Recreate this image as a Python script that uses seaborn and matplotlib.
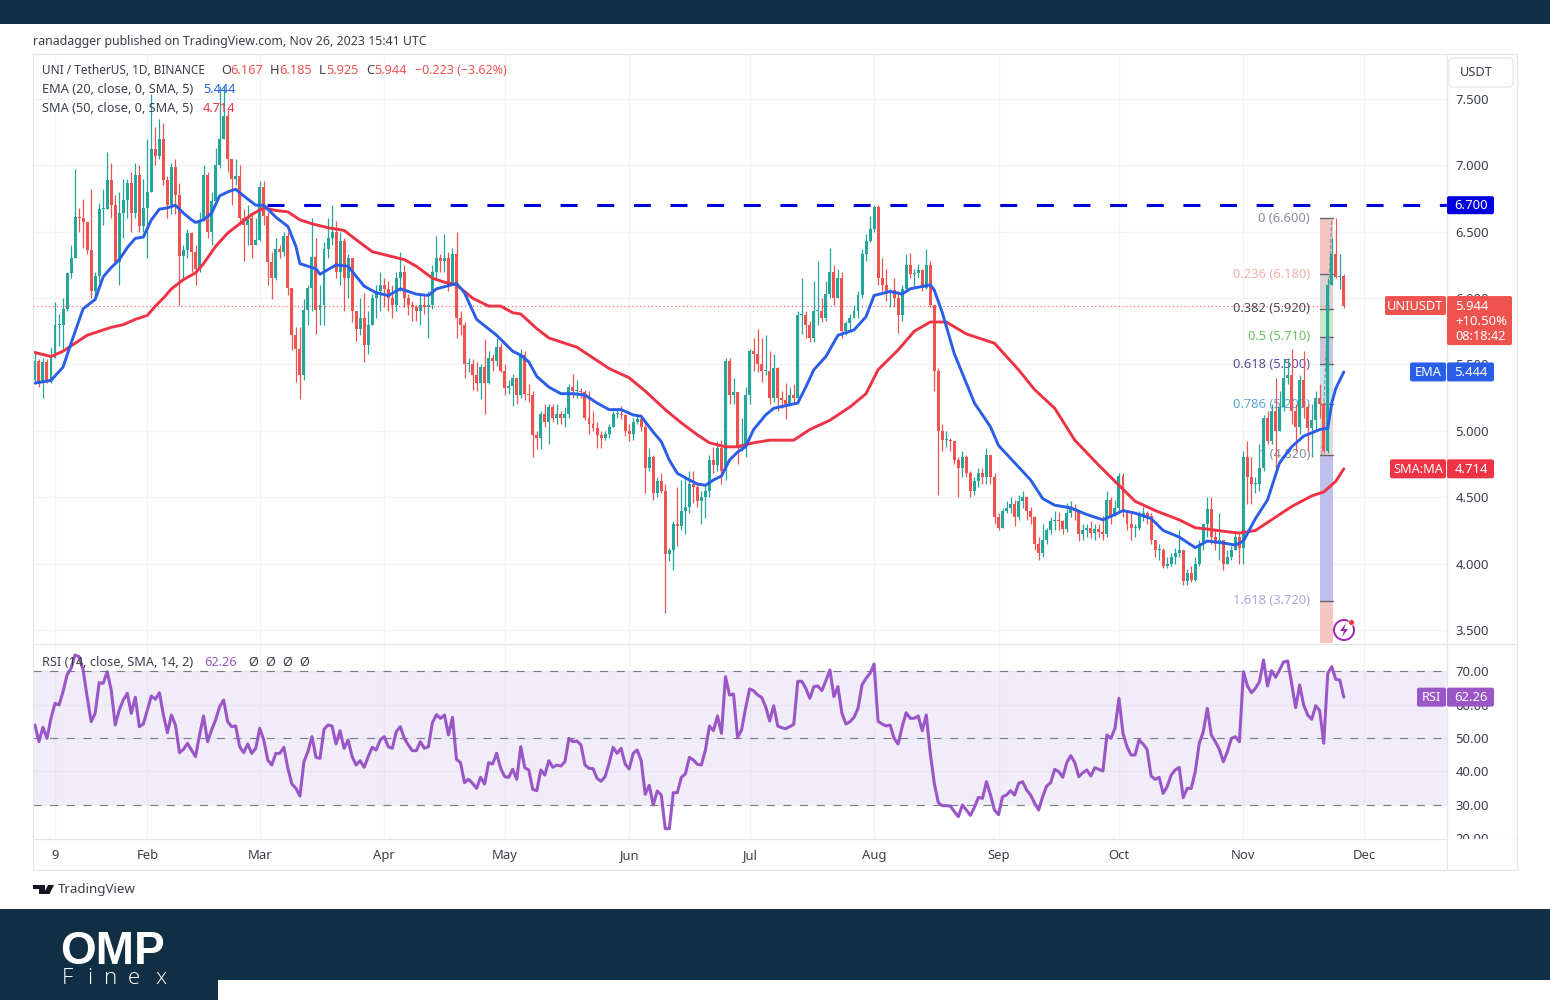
import numpy as np
import pandas as pd
import seaborn as sns
import matplotlib
matplotlib.use('Agg')
import matplotlib.pyplot as plt
from matplotlib.patches import Rectangle, FancyBboxPatch, Polygon, Circle

sns.set_theme(style='white')
plt.rcParams['font.family'] = ['Noto Sans', 'DejaVu Sans']

# daily candles, Jan 4 to Nov 26 2023, one row per month
closes = [
    5.53,5.37,5.52,5.38,5.55,5.80,5.80,5.92,6.19,6.30,6.61,6.60,6.57,6.36,6.05,6.17,6.67,6.67,6.89,6.70,6.27,6.64,6.74,6.87,6.64,6.93,6.54,6.68,
    6.80,7.12,7.07,7.20,6.89,6.70,6.99,6.78,6.32,6.36,6.49,6.35,6.22,6.58,6.93,6.50,6.73,7.00,7.20,7.37,7.05,6.90,6.92,6.60,6.55,6.60,6.40,6.44,
    6.84,6.62,6.27,6.15,6.37,6.35,6.47,6.08,5.72,5.62,5.42,5.91,6.08,6.31,5.91,5.95,6.37,6.45,6.50,6.20,6.43,6.15,6.30,5.90,5.77,5.85,5.65,5.80,6.00,6.05,6.10,
    6.07,6.00,5.95,6.15,6.20,6.00,5.95,5.93,5.90,5.95,5.93,5.95,6.20,6.30,6.28,6.30,6.10,6.33,5.85,5.80,5.50,5.50,5.42,5.36,5.48,5.36,5.55,5.53,5.63,5.45,
    5.32,5.34,5.40,5.27,5.57,5.28,5.27,4.97,4.95,5.13,5.07,5.18,5.10,5.13,5.10,5.13,5.33,5.30,5.30,5.29,5.10,5.05,5.02,4.97,4.95,4.98,5.03,5.13,5.13,5.12,5.00,
    4.98,5.07,5.09,5.03,4.72,4.80,4.53,4.62,4.55,4.07,4.10,4.30,4.28,4.40,4.43,4.60,4.58,4.47,4.50,4.55,4.78,4.74,4.87,4.70,5.53,5.27,5.29,4.87,4.90,5.27,
    5.60,5.58,5.50,5.45,5.45,5.25,5.47,5.25,5.23,5.20,5.27,5.25,5.87,5.87,5.80,5.70,5.90,5.90,5.85,6.03,6.20,6.00,6.15,5.75,5.81,5.85,5.90,6.02,6.33,6.43,6.52,
    6.69,6.15,6.10,6.05,6.06,6.00,5.87,6.07,6.25,6.18,6.19,6.21,6.08,6.25,5.95,5.45,5.00,4.93,4.93,4.92,4.78,4.72,4.80,4.68,4.55,4.62,4.68,4.65,4.82,4.65,4.35,
    4.27,4.40,4.42,4.45,4.35,4.47,4.50,4.40,4.35,4.15,4.08,4.18,4.25,4.32,4.33,4.32,4.26,4.38,4.42,4.40,4.22,4.25,4.27,4.23,4.26,4.24,4.22,4.48,4.36,4.42,
    4.66,4.40,4.30,4.27,4.27,4.37,4.38,4.36,4.18,4.10,4.10,3.98,4.00,4.05,4.08,4.10,3.87,3.93,3.88,4.00,4.15,4.30,4.41,4.20,4.15,4.18,4.00,4.05,4.10,4.20,4.12,
    4.80,4.65,4.60,4.60,4.72,5.10,4.92,5.15,5.00,5.18,5.40,5.42,5.15,5.03,5.38,5.18,5.02,5.08,5.25,5.20,4.85,6.10,6.33,6.16,6.167,5.944,
]
highs = [
    5.60,5.54,5.55,5.54,5.63,5.97,5.88,6.00,6.20,6.40,6.97,6.68,6.75,6.55,6.82,6.20,6.72,6.82,7.10,7.02,6.78,6.80,6.90,6.90,6.95,7.02,7.00,6.90,
    7.20,7.54,7.29,7.35,7.32,6.92,7.02,7.05,6.87,6.40,6.52,6.50,6.40,6.65,7.00,6.95,6.80,7.13,7.60,7.60,7.42,7.05,7.05,7.00,6.67,6.70,6.65,6.60,
    6.88,6.88,6.65,6.35,6.45,6.40,6.50,6.50,6.08,5.78,5.78,5.99,6.10,6.60,6.45,6.10,6.42,6.60,6.70,6.58,6.50,6.45,6.33,6.30,5.90,6.00,6.04,5.90,6.03,6.10,6.20,
    6.15,6.13,6.10,6.20,6.35,6.25,6.03,5.98,5.95,6.02,6.02,6.05,6.25,6.47,6.33,6.48,6.35,6.38,6.50,5.90,5.82,5.55,5.54,5.52,5.50,5.69,5.60,5.58,5.70,5.66,
    5.50,5.38,5.43,5.40,5.62,5.60,5.35,5.30,5.00,5.15,5.20,5.20,5.20,5.20,5.15,5.18,5.35,5.43,5.38,5.32,5.31,5.30,5.15,5.07,5.00,5.00,5.05,5.15,5.17,5.19,5.13,
    5.05,5.10,5.12,5.13,5.05,4.87,4.82,4.65,4.68,4.60,4.12,4.32,4.58,4.63,4.65,4.70,4.70,4.60,4.55,4.60,4.82,4.88,4.92,4.93,5.55,5.55,5.40,5.29,5.10,5.33,
    5.62,5.70,5.77,5.70,5.72,5.60,5.58,5.48,5.30,5.36,5.33,5.35,5.90,6.15,5.90,5.83,6.13,6.28,6.00,6.13,6.38,6.25,6.22,6.20,5.83,5.88,5.95,6.05,6.37,6.48,6.62,
    6.70,6.70,6.30,6.22,6.07,6.15,6.05,6.10,6.33,6.34,6.22,6.26,6.22,6.37,6.28,5.95,5.47,5.05,5.00,4.95,4.92,4.80,4.85,4.82,4.70,4.65,4.72,4.72,4.87,4.82,4.68,
    4.38,4.42,4.47,4.50,4.48,4.52,4.55,4.49,4.43,4.36,4.20,4.30,4.27,4.35,4.40,4.39,4.33,4.46,4.47,4.45,4.40,4.30,4.30,4.32,4.30,4.30,4.36,4.55,4.50,4.48,
    4.68,4.68,4.40,4.40,4.30,4.40,4.43,4.40,4.38,4.18,4.15,4.12,4.05,4.08,4.12,4.25,4.10,3.96,3.98,4.05,4.18,4.30,4.50,4.50,4.25,4.38,4.18,4.10,4.13,4.23,4.22,
    4.85,4.92,4.80,4.65,4.90,5.12,5.15,5.20,5.40,5.30,5.55,5.55,5.62,5.20,5.42,5.60,5.20,5.20,5.30,5.35,5.22,6.15,6.45,6.60,6.33,6.185,
]
lows = [
    5.35,5.33,5.25,5.36,5.36,5.55,5.64,5.62,5.90,6.15,6.30,6.50,6.38,6.33,6.00,6.00,6.12,6.55,6.68,6.60,6.25,6.10,6.45,6.60,6.50,6.60,6.50,6.50,
    6.30,6.80,7.00,7.05,6.85,6.60,6.63,6.63,5.95,6.15,6.30,6.20,6.10,6.20,6.58,6.45,6.40,6.73,6.98,7.20,6.95,6.70,6.85,6.55,6.28,6.40,6.30,6.40,
    6.43,6.55,6.10,5.99,6.14,6.30,6.32,6.02,5.61,5.37,5.24,5.38,5.80,5.90,5.73,5.80,5.80,6.30,6.40,6.15,6.10,5.90,6.00,5.82,5.68,5.72,5.52,5.58,5.80,5.85,5.90,
    5.93,5.90,5.85,5.90,6.05,5.93,5.87,5.83,5.83,5.80,5.88,5.70,5.92,6.15,6.20,6.20,6.05,6.10,5.70,5.72,5.40,5.44,5.31,5.30,5.24,5.13,5.35,5.45,5.49,5.44,
    5.27,5.28,5.19,5.20,5.25,5.23,5.22,4.80,4.86,4.86,5.03,4.90,5.07,5.05,5.05,5.03,5.10,5.25,5.25,5.25,5.08,4.98,5.00,4.87,4.87,4.93,4.95,5.03,5.10,5.09,4.96,
    4.92,4.93,5.05,5.00,4.53,4.70,4.48,4.50,4.53,3.63,4.02,3.95,4.13,4.25,4.22,4.38,4.46,4.43,4.30,4.34,4.50,4.68,4.70,4.60,4.63,5.20,5.20,4.75,4.85,4.80,
    5.20,5.45,5.44,5.37,5.42,5.20,5.22,5.15,5.17,5.09,5.20,5.20,5.20,5.73,5.70,5.67,5.67,5.80,5.82,5.83,6.00,5.95,6.00,5.70,5.72,5.75,5.85,5.85,6.00,6.28,6.42,
    6.50,6.10,6.05,5.98,5.93,5.93,5.74,5.83,6.07,6.15,6.08,6.15,6.05,6.07,5.93,5.30,4.52,4.85,4.88,4.85,4.75,4.50,4.65,4.65,4.50,4.52,4.58,4.60,4.60,4.60,4.30,
    4.25,4.27,4.38,4.38,4.28,4.33,4.42,4.33,4.30,4.10,4.03,4.05,4.15,4.22,4.25,4.25,4.22,4.24,4.35,4.33,4.17,4.18,4.20,4.19,4.18,4.20,4.18,4.20,4.30,4.36,
    4.40,4.35,4.25,4.18,4.20,4.25,4.32,4.30,4.15,4.05,4.03,3.97,3.97,3.98,4.00,4.05,3.84,3.84,3.86,3.87,3.98,4.10,4.20,4.15,4.10,4.03,3.95,4.00,4.03,4.10,4.00,
    4.00,4.45,4.45,4.53,4.55,4.70,4.90,4.90,4.72,5.05,5.15,5.35,5.05,4.85,4.98,5.10,4.85,4.80,5.00,5.10,4.83,4.83,6.10,6.15,6.07,5.925,
]
first_open = 5.38

rsi = [
    53.9,48.9,53.2,49.9,55.9,60.4,59.9,63.9,68.9,70.9,74.9,74.4,70.4,62.4,54.9,57.4,66.6,66.4,69.9,64.4,53.9,58.4,61.4,63.4,57.4,62.2,53.4,54.2,
    58.4,62.6,61.6,63.6,56.9,51.6,56.9,53.9,45.6,46.6,48.4,46.4,44.4,50.9,56.6,48.9,52.4,55.4,59.4,61.4,54.9,53.4,53.6,47.4,45.6,48.2,45.4,46.9,
    52.9,49.4,43.4,41.9,45.4,45.4,47.2,40.9,36.2,34.9,32.6,42.9,45.9,50.4,44.2,43.9,52.6,53.9,53.6,48.2,52.2,46.9,49.4,44.4,41.9,43.2,41.2,44.4,47.2,46.4,49.4,
    50.4,47.4,46.9,51.9,53.4,49.9,47.9,46.2,46.2,48.9,46.9,47.4,54.6,57.0,55.9,56.9,50.9,56.2,43.6,42.6,36.6,37.6,36.4,34.9,38.2,36.2,42.6,42.2,45.4,40.9,
    38.4,38.2,40.6,37.6,47.4,41.1,40.4,34.6,34.2,40.4,38.9,43.2,41.2,41.9,41.6,42.9,49.9,48.9,49.1,47.9,41.9,40.9,40.8,37.9,37.0,38.4,42.4,47.2,45.4,46.9,42.2,
    40.7,45.4,46.4,43.2,33.1,35.8,29.9,34.1,32.9,22.8,22.8,33.6,33.6,38.2,39.2,44.2,43.4,42.1,41.9,46.4,53.6,52.2,56.6,51.4,68.4,62.9,63.2,50.2,52.4,58.9,
    64.7,64.2,62.9,62.2,59.4,55.1,59.7,53.6,53.1,52.8,53.4,54.1,67.0,67.0,64.9,61.9,65.4,65.6,64.2,67.2,70.4,62.4,65.4,57.4,54.2,54.9,56.2,58.9,65.9,67.9,69.4,
    72.2,55.0,54.2,53.6,53.9,49.9,48.2,53.4,57.6,55.9,55.9,56.6,52.2,56.9,45.4,36.4,30.6,29.7,29.7,29.6,27.9,26.4,29.9,28.4,26.8,29.2,32.2,31.9,36.9,32.9,28.4,
    27.0,32.4,32.9,34.2,32.9,36.4,36.9,34.4,32.9,30.4,28.4,32.4,35.6,36.6,40.6,39.9,38.2,42.6,44.7,42.6,38.4,39.6,40.4,38.6,41.1,40.6,40.1,50.9,49.9,52.9,
    61.9,51.4,47.4,44.9,44.9,49.4,48.2,46.6,38.6,37.6,38.2,33.4,35.4,38.9,40.4,41.2,32.1,34.9,34.9,39.9,48.4,51.9,58.9,50.9,48.9,46.6,42.9,45.9,49.9,50.4,48.9,
    69.9,65.6,63.6,64.9,66.9,73.4,65.6,70.2,68.2,70.4,72.8,73.1,66.4,59.1,65.9,59.9,56.9,55.6,59.7,58.2,48.4,69.4,71.4,67.6,67.4,62.26,
]

# moving averages, day of year / price
ema_days = [4,8,11,13,16,19,21,23,25,27,29,31,33,35,37,39,41,43,44,46,48,50,52,54,56,59,61,64,67,69,70,74,75,79,82,86,89,92,95,99,102,104,109,111,114,119,123,125,
            127,129,132,135,138,141,144,147,150,153,155,158,160,162,164,167,169,171,173,175,177,179,181,183,186,188,191,194,196,198,201,204,208,211,213,217,220,222,227,228,230,233,238,242,
            244,248,252,255,258,262,266,270,273,275,278,282,285,289,293,296,299,303,305,308,311,314,317,320,324,326,327,328,330]
ema_vals = [5.36,5.38,5.48,5.66,5.92,5.99,6.16,6.23,6.29,6.38,6.45,6.46,6.59,6.67,6.68,6.70,6.64,6.59,6.57,6.59,6.64,6.77,6.80,6.82,6.77,6.70,6.70,6.61,6.54,6.39,6.26,6.22,6.18,6.25,6.24,6.09,6.04,6.02,6.07,6.03,6.02,6.07,6.11,6.04,5.84,5.72,5.60,5.57,
            5.52,5.41,5.33,5.28,5.28,5.27,5.21,5.16,5.16,5.12,5.11,4.99,4.92,4.78,4.68,4.63,4.60,4.59,4.63,4.66,4.78,4.84,4.88,5.01,5.12,5.17,5.19,5.21,5.33,5.46,5.56,5.72,5.76,5.86,6.02,6.05,6.03,6.07,6.10,6.06,5.89,5.58,5.21,5.03,
            4.89,4.76,4.63,4.49,4.44,4.42,4.37,4.33,4.37,4.40,4.38,4.34,4.25,4.20,4.12,4.17,4.16,4.14,4.17,4.34,4.48,4.76,4.88,4.96,5.01,5.02,5.21,5.32,5.444]
sma_days = [4,8,11,14,17,20,23,26,29,32,34,36,38,41,44,46,49,52,55,58,61,64,67,70,73,77,81,84,88,92,96,99,103,106,109,113,117,120,123,125,
            129,132,136,139,142,147,152,156,161,165,169,172,176,179,183,187,193,197,202,207,211,214,219,223,227,231,236,243,
            249,253,258,263,269,274,278,283,289,293,296,301,304,308,312,317,322,325,328,330]
sma_vals = [5.59,5.56,5.60,5.66,5.72,5.75,5.78,5.80,5.84,5.87,5.94,6.00,6.07,6.14,6.19,6.26,6.39,6.49,6.56,6.63,6.68,6.66,6.65,6.59,6.56,6.53,6.51,6.44,6.35,6.32,6.29,6.24,6.15,6.12,6.10,6.00,5.94,5.94,5.89,5.88,
            5.77,5.70,5.66,5.63,5.57,5.47,5.40,5.30,5.16,5.06,4.97,4.91,4.88,4.88,4.91,4.93,4.93,5.01,5.08,5.18,5.28,5.46,5.61,5.75,5.82,5.82,5.73,5.66,
            5.46,5.31,5.17,4.93,4.74,4.59,4.47,4.40,4.33,4.27,4.26,4.24,4.23,4.25,4.33,4.43,4.51,4.54,4.62,4.714]

tick_days = [9, 32, 60, 91, 121, 152, 182, 213, 244, 274, 305, 335]
tick_labels = ['9', 'Feb', 'Mar', 'Apr', 'May', 'Jun', 'Jul', 'Aug', 'Sep', 'Oct', 'Nov', 'Dec']
price_ticks = [3.5, 4.0, 4.5, 5.0, 5.5, 6.0, 6.5, 7.0, 7.5]
rsi_ticks = [20, 30, 40, 50, 60, 70]

fib_levels = [6.6, 6.18, 5.92, 5.71, 5.5, 5.2, 4.82, 3.72]
fib_names = ['0', '0.236', '0.382', '0.5', '0.618', '0.786', '1', '1.618']
fib_text = ['#8a8d96', '#f0b0ac', '#4a4a4a', '#66c266', '#5e4b9e', '#5da6d8', '#8a8d96', '#a9a9dd']
fib_fill = ['#f3c5c3', '#dcd4d4', '#c8e9c4', '#cfc4de', '#c8e5ec', '#dcdcdc', '#bfc0ec', '#f3c5c3']

resistance = 6.7
last_price = 5.944
last_ema = 5.444
last_sma = 4.714
last_rsi = 62.26

UP = '#26a69a'
DOWN = '#ef5350'
GRID = '#f3f4f6'
BORDER = '#e4e6ea'
NAVY = '#102e44'
TXT = '#3a3e48'
BLUE = '#2b5ee8'
RED = '#ee3344'
PURPLE = '#9a56c6'

days = np.arange(4, 4 + len(closes))
df = pd.DataFrame({'day': days, 'close': closes, 'high': highs, 'low': lows, 'rsi': rsi})
df['open'] = df['close'].shift(1).fillna(first_open)
df['up'] = df['close'] >= df['open']
df['color'] = np.where(df['up'], UP, DOWN)

fig = plt.figure(figsize=(15.5, 10), dpi=100, facecolor='white')
W, H = 1550.0, 1000.0


def pane(x0, y0, x1, y1):
    return fig.add_axes([x0 / W, 1 - y1 / H, (x1 - x0) / W, (y1 - y0) / H])


ax = pane(33, 54, 1447, 643)
ax2 = pane(33, 644, 1447, 838)

# price pane
ax.set_xlim(3.52, 355.7)
ax.set_ylim(3.402, 7.839)
for d in tick_days:
    ax.axvline(d, color=GRID, lw=1, zorder=0)
    ax2.axvline(d, color=GRID, lw=1, zorder=0)
for p in price_ticks:
    ax.axhline(p, color=GRID, lw=1, zorder=0)

# fib retracement block
fib_x0, fib_x1 = 324.0, 327.2
edges = fib_levels + [ax.get_ylim()[0]]
for i in range(len(fib_levels)):
    ax.fill_betweenx([edges[i + 1], edges[i]], fib_x0, fib_x1, color=fib_fill[i], lw=0, zorder=1)
    ax.plot([fib_x0, fib_x1], [edges[i], edges[i]], color='#666666', lw=1, zorder=1.2)
    ax.text(321.6, fib_levels[i], '%s (%.3f)' % (fib_names[i], fib_levels[i]), color=fib_text[i],
            ha='right', va='center', fontsize=9.3, zorder=1.3)
ax.plot([fib_x0 + 0.5, fib_x1 - 0.2], [fib_levels[6], fib_levels[0]], color='#8a8d96', lw=0.8, ls='--', zorder=1.4)

# candles
ax.vlines(df['day'], df[['low', 'open', 'close']].min(axis=1), df[['high', 'open', 'close']].max(axis=1),
          colors=df['color'], lw=0.9, zorder=2)
ax.bar(df['day'], (df['close'] - df['open']).abs().clip(lower=0.008), bottom=df[['open', 'close']].min(axis=1),
       width=0.74, color=df['color'], lw=0, zorder=2.2)

sns.lineplot(x=sma_days, y=sma_vals, color=RED, linewidth=2.1, ax=ax, zorder=3, estimator=None, sort=False,
             solid_joinstyle='round')
sns.lineplot(x=ema_days, y=ema_vals, color=BLUE, linewidth=2.1, ax=ax, zorder=3.2, estimator=None, sort=False,
             solid_joinstyle='round')

ax.plot([61.7, 355.7], [resistance, resistance], color='#0000dd', lw=2.2, ls=(0, (5.56, 6.43)), zorder=3.4)
ax.plot([3.52, 327], [last_price, last_price], color=DOWN, lw=0.8, ls=(0, (1, 2.5)), zorder=1.1)

ax.set_xlim(3.52, 355.7)
ax.set_ylim(3.402, 7.839)
ax.set_yticks(price_ticks)
ax.set_yticklabels(['%.3f' % p for p in price_ticks])
ax.yaxis.tick_right()
ax.tick_params(axis='y', length=0, pad=6, labelsize=9.4, labelcolor=TXT)
ax.tick_params(axis='x', length=0, labelbottom=False)
ax.set_xlabel('')
ax.set_ylabel('')

# rsi pane
ax2.set_xlim(3.52, 355.7)
ax2.set_ylim(20, 78.2)
for v in rsi_ticks:
    ax2.axhline(v, color=GRID, lw=1, zorder=0)
ax2.axhspan(30, 70, color='#7e57c2', alpha=0.1, lw=0, zorder=0.5)
for v in [30, 50, 70]:
    ax2.axhline(v, color='#787b86', lw=0.8, ls=(0, (7.2, 7.8)), zorder=1)
sns.lineplot(x='day', y='rsi', data=df, color=PURPLE, linewidth=2.2, ax=ax2, zorder=3, estimator=None,
             solid_joinstyle='round')
ax2.set_xlim(3.52, 355.7)
ax2.set_ylim(20, 78.2)
ax2.set_yticks(rsi_ticks)
ax2.set_yticklabels(['%.2f' % v for v in rsi_ticks])
ax2.yaxis.tick_right()
ax2.tick_params(axis='y', length=0, pad=6, labelsize=9.4, labelcolor=TXT)
ax2.set_xticks(tick_days)
ax2.set_xticklabels(tick_labels)
ax2.tick_params(axis='x', length=0, pad=8, labelsize=9.4, labelcolor=TXT)
ax2.set_xlabel('')
ax2.set_ylabel('')

for a in (ax, ax2):
    for s in a.spines.values():
        s.set_visible(False)

# everything outside the panes goes on a pixel overlay
ov = fig.add_axes([0, 0, 1, 1], zorder=10)
ov.set_xlim(0, W)
ov.set_ylim(H, 0)
ov.axis('off')
ov.patch.set_alpha(0)


def box(x0, y0, x1, y1, color, zorder=5):
    ov.add_patch(FancyBboxPatch((x0 + 1, y0 + 1), x1 - x0 - 2, y1 - y0 - 2, boxstyle='round,pad=1,rounding_size=2',
                                fc=color, ec='none', zorder=zorder))


def txt(x, y, s, color=TXT, size=9.2, ha='left', **kw):
    ov.text(x, y + 1.5, s, color=color, fontsize=size, ha=ha, va='center', zorder=7, **kw)


def ypx(a, v):
    return H - a.transData.transform((0, v))[1]


# bands and frame
ov.add_patch(Rectangle((0, 0), W, 24, fc=NAVY, ec='none'))
ov.add_patch(Rectangle((0, 909), W, 91, fc=NAVY, ec='none'))
ov.add_patch(Rectangle((218, 980), W - 218, 20, fc='white', ec='none'))
ov.add_patch(Rectangle((1448, 839), 68, 30, fc='white', ec='none', zorder=4))
ov.add_patch(Rectangle((32.5, 54), 1484.5, 816, fc='none', ec=BORDER, lw=0.9))
ov.plot([1447, 1447], [54, 870], color=BORDER, lw=0.9)
ov.plot([33, 1517], [838.5, 838.5], color=BORDER, lw=0.9)
ov.plot([33, 1517], [643.5, 643.5], color=BORDER, lw=0.9)

txt(33, 40, 'ranadagger published on TradingView.com, Nov 26, 2023 15:41 UTC', size=8.9)

# legend rows
txt(42, 69, 'UNI / TetherUS, 1D, BINANCE', size=8.5)
for lab, x_lab, val, x_val in [('O', 221, '6.167', 230), ('H', 270, '6.185', 279), ('L', 319, '5.925', 326), ('C', 366, '5.944', 374)]:
    txt(x_lab, 69, lab, size=9.2)
    txt(x_val, 69, val, color=DOWN, size=9.2)
txt(415, 69, '\u22120.223 (\u22123.62%)', color=DOWN, size=9.0)
txt(42, 88, 'EMA (20, close, 0, SMA, 5)', size=9.2)
txt(203, 88, '%.3f' % last_ema, color=BLUE, size=9.2)
txt(42, 107, 'SMA (50, close, 0, SMA, 5)', size=9.2)
txt(203, 107, '%.3f' % last_sma, color=RED, size=9.2)
txt(42, 661, 'RSI (14, close, SMA, 14, 2)', size=9.2)
txt(204, 661, '%.2f' % last_rsi, color=PURPLE, size=9.2)
for x_n in [248, 265, 282, 299]:
    txt(x_n, 661, '\u00d8', size=9.2)

# USDT button
ov.add_patch(FancyBboxPatch((1451, 60), 60, 25, boxstyle='round,pad=2,rounding_size=4', fc='white', ec=BORDER, lw=0.9, zorder=5))
txt(1476, 71, 'USDT', ha='center', size=9.2)

# axis tags
y = ypx(ax, resistance)
box(1447, y - 9, 1494, y + 9, '#0000e0')
txt(1471, y - 1, '%.3f' % resistance, color='white', ha='center', size=9.4)

y = ypx(ax, last_price)
box(1385, y - 9.5, 1446, y + 9.5, DOWN)
txt(1415.5, y - 1, 'UNIUSDT', color='white', ha='center', size=9.2)
box(1447, y - 9.5, 1512, y + 39.5, DOWN)
txt(1455, y - 1, '%.3f' % last_price, color='white', size=9.4)
txt(1455, y + 14.5, '+10.50%', color='white', size=9.4)
txt(1455, y + 29.5, '08:18:42', color='white', size=9.2)

y = ypx(ax, last_ema)
box(1410, y - 9.5, 1446, y + 9.5, BLUE)
txt(1428, y - 1, 'EMA', color='white', ha='center', size=9.2)
box(1447, y - 9.5, 1494, y + 9.5, BLUE)
txt(1471, y - 1, '%.3f' % last_ema, color='white', ha='center', size=9.4)

y = ypx(ax, last_sma)
box(1390, y - 9.5, 1446, y + 9.5, RED)
txt(1418, y - 1, 'SMA:MA', color='white', ha='center', size=9.2)
box(1447, y - 9.5, 1494, y + 9.5, RED)
txt(1471, y - 1, '%.3f' % last_sma, color='white', ha='center', size=9.4)

y = ypx(ax2, last_rsi)
box(1417, y - 9.5, 1446, y + 9.5, PURPLE)
txt(1431.5, y - 1, 'RSI', color='white', ha='center', size=9.2)
box(1447, y - 9.5, 1494, y + 9.5, PURPLE)
txt(1471, y - 1, '%.2f' % last_rsi, color='white', ha='center', size=9.4)

# lightning icon
ov.add_patch(Circle((1344, 630), 10, fc='white', ec='#9c27b0', lw=1.4, zorder=6))
ov.add_patch(Polygon([(1346, 623), (1340, 631), (1344, 631), (1342, 637), (1348, 629), (1344, 629)], fc='#9c27b0', ec='none', zorder=7))
ov.add_patch(Circle((1351.5, 622.5), 3, fc='#f23645', ec='white', lw=0.6, zorder=8))

# TradingView mark
ov.add_patch(Polygon([(33, 885), (45, 885), (45, 894), (39, 894), (39, 889), (33, 889)], fc='#131722', ec='none'))
ov.add_patch(Polygon([(48, 885), (54, 885), (49.5, 894), (43.5, 894)], fc='#131722', ec='none'))
txt(58, 888, 'TradingView', color='#3a3e48', size=9.6)

# OMP Finex logo
ov.text(113, 952, 'OMP', color='white', fontsize=33, ha='center', va='center', family='Liberation Sans', fontweight='bold', zorder=7)
for letter, x_l in zip('Finex', [62, 87, 104, 128, 155]):
    ov.text(x_l, 979, letter, color='white', fontsize=16, ha='left', va='center', family='Open Sans', fontweight='light', zorder=7)

fig.savefig('out.png', dpi=100)
